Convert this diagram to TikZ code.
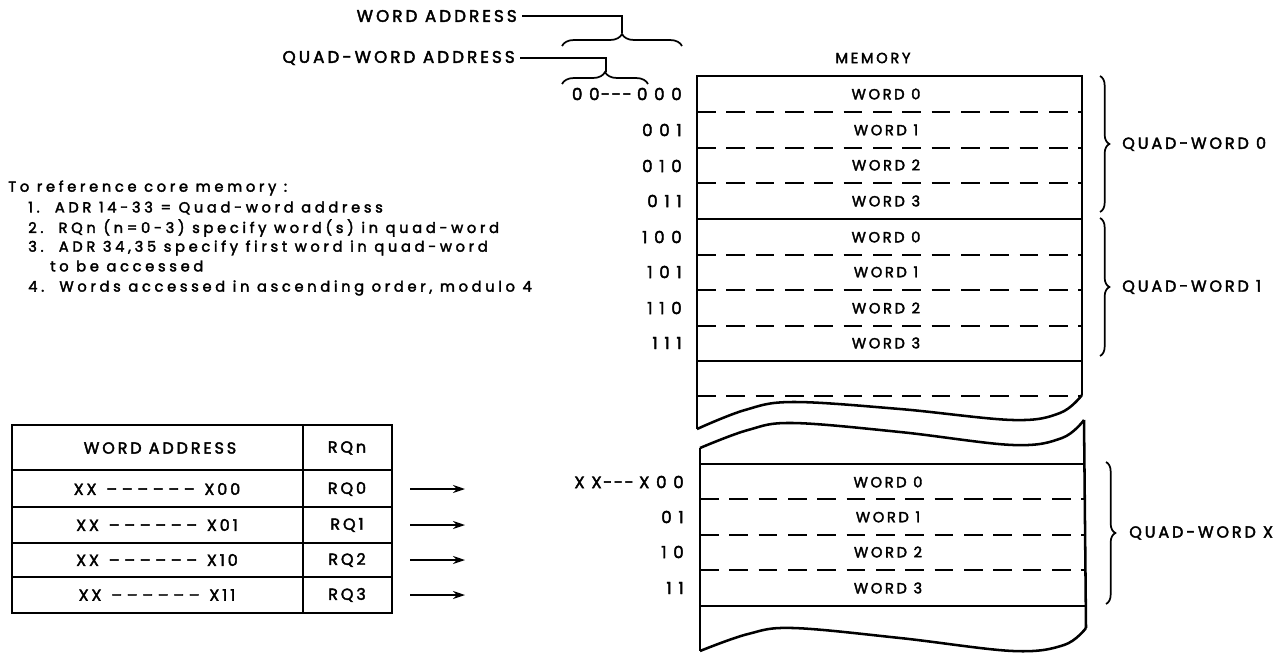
\documentclass[tikz,border=0pt]{standalone}
\usepackage{fontspec}
\setmainfont{Poppins}[LetterSpace=18,FakeBold=2.4]
\newfontfamily\adrfont{Poppins}[LetterSpace=40,FakeBold=2.4]
\newfontfamily\plainfont{Poppins}[FakeBold=2.4]
\newfontfamily\notefont{Poppins}[LetterSpace=25,FakeBold=2.4]
\usetikzlibrary{decorations.pathreplacing,arrows.meta}
\newcommand{\dashrow}{\kern2pt–\kern3.5pt–\kern3.5pt–\kern3.5pt–\kern3.5pt–\kern3.5pt–\kern2pt}
\newcommand{\tridash}{{\plainfont\kern1pt-\kern1.2pt-\kern1.2pt-\kern4pt}}
\begin{document}
\begin{tikzpicture}[x=0.75pt,y=-0.75pt,
  lbl/.style={inner sep=0pt,font=\fontsize{12}{14}\selectfont},
  note/.style={inner sep=0pt,font=\notefont\fontsize{11}{13}\selectfont},
  hd/.style={inner sep=0pt,font=\fontsize{12.6}{15}\selectfont},
  wd/.style={inner sep=0pt,font=\fontsize{11}{13}\selectfont},
  adr/.style={inner sep=0pt,font=\adrfont\fontsize{12.5}{15}\selectfont},
  box/.style={line width=1.9pt},
  dashln/.style={line width=1.8pt,dash pattern=on 14pt off 8pt},
  brc/.style={decorate,decoration={brace,amplitude=9pt},line width=1.3pt},
  rbrc/.style={decorate,decoration={brace,amplitude=7pt},line width=1.3pt},
  lead/.style={line width=1.3pt},
  arr/.style={line width=1.4pt,-{Stealth[length=9pt,width=6pt]}},
  tbl/.style={line width=1.6pt}]
\useasboundingbox (0,0) rectangle (1281,653);

% address heading
\node[hd,anchor=east] (wa) at (517,16) {WORD ADDRESS};
\node[hd,anchor=east] (qa) at (515,58) {QUAD-WORD ADDRESS};
\coordinate (wtip) at (622,33);
\coordinate (qtip) at (606,72);
\draw[lead] ([xshift=4]wa.east) -| (wtip);
\draw[lead] ([xshift=4]qa.east) -| (qtip);
\draw[brc] (562,46) -- (682,46);
\draw[brc] (562,84) -- (648,84);

\node[wd] (mem) at (873,58) {MEMORY};

% address labels
\foreach \t/\y [count=\i] in {00\tridash000/94,001/130,010/166,011/201,100/237,101/272,110/308,111/343}
  \node[adr,anchor=east] (ad\i) at (682,\y) {\t};
\foreach \t/\y [count=\i] in {XX\tridash X00/482,01/517,10/552,11/588}
  \node[adr,anchor=east] (bx\i) at (684,\y) {\t};

% memory upper segment
\draw[box] (697,429) -- (697,76) -- (1082,76) -- (1082,395);
\foreach \y in {219,361} \draw[box] (697,\y) -- (1082,\y);
\foreach \y in {112,148,183,255,290,326,396} \draw[dashln] (697,\y) -- (1082,\y);
\draw[box] plot[smooth,tension=0.6] coordinates {(697,429) (745,410) (793,402) (900,409) (1013,420) (1060,413) (1082,395)};
% memory lower segment
\draw[box] plot[smooth,tension=0.6] coordinates {(700,448) (748,430) (793,423) (900,432) (1013,445) (1062,438) (1084,420)};
\draw[box] (700,448) -- (700,651);
\draw[box] (1084,420) -- (1086,628);
\foreach \y in {464,606} \draw[box] (700,\y) -- (1085,\y);
\foreach \y in {499,535,570} \draw[dashln] (700,\y) -- (1085,\y);
\draw[box] plot[smooth,tension=0.6] coordinates {(700,651) (748,634) (793,628) (900,638) (1013,651) (1064,645) (1086,628)};

% words
\foreach \y/\n [count=\i] in {94/0,130/1,165/2,201/3,237/0,272/1,308/2,343/3}
  \node[wd] (w\i) at (886,\y) {WORD \n};
\foreach \y/\n [count=\i] in {482/0,517/1,552/2,588/3}
  \node[wd] (x\i) at (888,\y) {WORD \n};

% right braces
\draw[rbrc] (1100,76) -- (1100,212);
\draw[rbrc] (1100,218) -- (1100,356);
\draw[rbrc] (1106,462) -- (1106,604);
\node[lbl,anchor=west] (q0) at (1122,144) {QUAD-WORD 0};
\node[lbl,anchor=west] (q1) at (1122,287) {QUAD-WORD 1};
\node[lbl,anchor=west] (qx) at (1129,533) {QUAD-WORD X};

% notes
\node[note,anchor=west] (n0) at (8,188) {To reference core memory :};
\node[note,anchor=west] (n1) at (28,208) {1.\ \ ADR 14-33 = Quad-word address};
\node[note,anchor=west] (n2) at (28,228) {2.\ \ RQn (n=0-3) specify word(s) in quad-word};
\node[note,anchor=west] (n3) at (28,248) {3.\ \ ADR 34,35 specify first word in quad-word};
\node[note,anchor=west] (n3b) at (50,266) {to be accessed};
\node[note,anchor=west] (n4) at (28,288) {4.\ \ Words accessed in ascending order, modulo 4};

% table
\draw[tbl] (12,425) rectangle (392,613);
\foreach \y in {470,507,543,577} \draw[tbl] (12,\y) -- (392,\y);
\draw[tbl] (303,425) -- (303,613);
\node[lbl] (th1) at (160,448) {WORD ADDRESS};
\node[lbl] (th2) at (347,448) {RQn};
\foreach \y/\a/\r [count=\i] in {489/00/0,525/01/1,560/10/2,595/11/3}{
  \node[lbl] (ta\i) at (157,\y) {XX \dashrow\ X\a};
  \node[lbl] (tr\i) at (347,\y) {RQ\r};
  \coordinate (as\i) at (410,\y);
  \coordinate (ae\i) at (465,\y);
  \draw[arr] (as\i) -- (ae\i);
}
\end{tikzpicture}
\end{document}
